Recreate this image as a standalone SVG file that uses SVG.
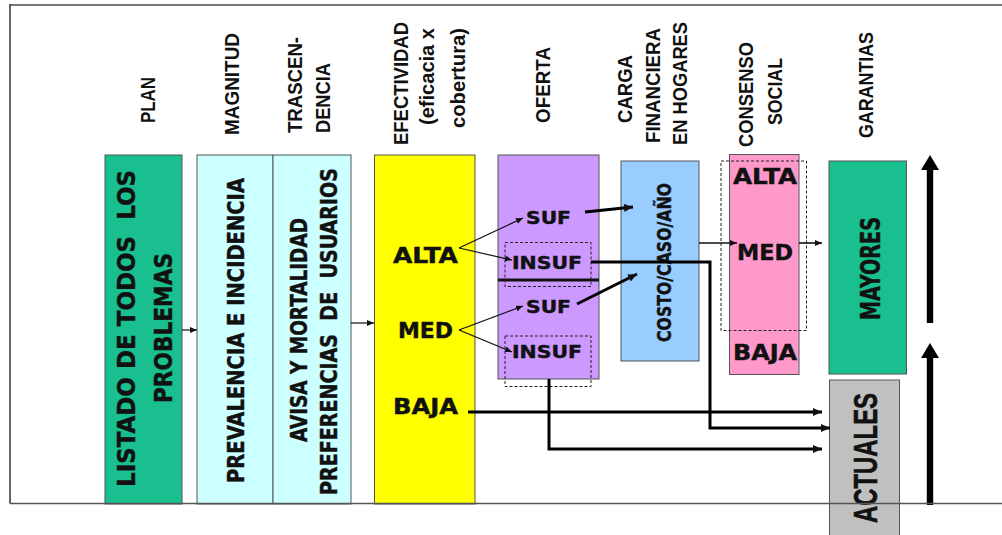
<svg xmlns="http://www.w3.org/2000/svg" width="1002" height="535" viewBox="0 0 1002 535">
<style>
.hdr{font-family:"Liberation Sans",Arial,sans-serif;font-weight:bold;font-size:20px;fill:#111}
.bx{font-family:"DejaVu Sans Condensed","DejaVu Sans",sans-serif;font-weight:bold;fill:#111;stroke:#111;stroke-width:0.4}
.ar{font-family:"Liberation Sans",Arial,sans-serif;font-weight:bold;fill:#111;stroke:#111;stroke-width:0.6}
.box{stroke:#555;stroke-width:1}
.dash{fill:none;stroke:#222;stroke-width:1;stroke-dasharray:3 2}
.thin{stroke:#111;stroke-width:1.2;fill:none}
.med{stroke:#111;stroke-width:1.6;fill:none}
.thick{stroke:#000;stroke-width:3;fill:none}
</style>
<defs>
<marker id="hs" markerUnits="userSpaceOnUse" markerWidth="8" markerHeight="8" refX="7" refY="3" orient="auto"><path d="M0,0 L7,3 L0,6 Z" fill="#111"/></marker>
<marker id="hm" markerUnits="userSpaceOnUse" markerWidth="10" markerHeight="10" refX="9" refY="4" orient="auto"><path d="M0,0 L9,4 L0,8 Z" fill="#111"/></marker>
</defs>
<rect x="0" y="0" width="1002" height="535" fill="#fff"/>

<g id="headers">
<text class="hdr" transform="translate(155,123) rotate(-90)" textLength="46" lengthAdjust="spacingAndGlyphs">PLAN</text>
<text class="hdr" transform="translate(239,135) rotate(-90)" textLength="102" lengthAdjust="spacingAndGlyphs">MAGNITUD</text>
<text class="hdr" transform="translate(302,133) rotate(-90)" textLength="96" lengthAdjust="spacingAndGlyphs">TRASCEN-</text>
<text class="hdr" transform="translate(330,133) rotate(-90)" textLength="70" lengthAdjust="spacingAndGlyphs">DENCIA</text>
<text class="hdr" transform="translate(408,145) rotate(-90)" textLength="123" lengthAdjust="spacingAndGlyphs">EFECTIVIDAD</text>
<text class="hdr" transform="translate(434,125) rotate(-90)" textLength="97" lengthAdjust="spacingAndGlyphs">(eficacia x</text>
<text class="hdr" transform="translate(465,128) rotate(-90)" textLength="100" lengthAdjust="spacingAndGlyphs">cobertura)</text>
<text class="hdr" transform="translate(550,123) rotate(-90)" textLength="76" lengthAdjust="spacingAndGlyphs">OFERTA</text>
<text class="hdr" transform="translate(632,123) rotate(-90)" textLength="68" lengthAdjust="spacingAndGlyphs">CARGA</text>
<text class="hdr" transform="translate(660,143) rotate(-90)" textLength="115" lengthAdjust="spacingAndGlyphs">FINANCIERA</text>
<text class="hdr" transform="translate(687,145) rotate(-90)" textLength="123" lengthAdjust="spacingAndGlyphs">EN HOGARES</text>
<text class="hdr" transform="translate(753,147) rotate(-90)" textLength="105" lengthAdjust="spacingAndGlyphs">CONSENSO</text>
<text class="hdr" transform="translate(782,125) rotate(-90)" textLength="67" lengthAdjust="spacingAndGlyphs">SOCIAL</text>
<text class="hdr" transform="translate(873,138) rotate(-90)" textLength="106" lengthAdjust="spacingAndGlyphs">GARANTIAS</text>
</g>

<g id="plan">
<rect class="box" x="105" y="155" width="77" height="349" fill="#1ABF8F"/>
<text class="bx" font-size="25" xml:space="preserve" transform="translate(135,487) rotate(-90)" textLength="317" lengthAdjust="spacingAndGlyphs">LISTADO DE TODOS  LOS</text>
<text class="bx" font-size="25" transform="translate(172,403) rotate(-90)" textLength="150" lengthAdjust="spacingAndGlyphs">PROBLEMAS</text>
</g>

<g id="magnitud">
<rect class="box" x="197" y="155" width="76" height="349" fill="#CCFFFF"/>
<text class="bx" font-size="22.5" transform="translate(244,483) rotate(-90)" textLength="305" lengthAdjust="spacingAndGlyphs">PREVALENCIA E INCIDENCIA</text>
</g>

<g id="trascendencia">
<rect class="box" x="273" y="155" width="78" height="349" fill="#CCFFFF"/>
<text class="bx" font-size="22.5" transform="translate(307,442) rotate(-90)" textLength="224" lengthAdjust="spacingAndGlyphs">AVISA Y MORTALIDAD</text>
<text class="bx" font-size="22.5" xml:space="preserve" transform="translate(337,495) rotate(-90)" textLength="327" lengthAdjust="spacingAndGlyphs">PREFERENCIAS  DE  USUARIOS</text>
</g>

<g id="efectividad">
<rect class="box" x="374.5" y="155" width="100.5" height="349" fill="#FFFF00"/>
<text class="bx" font-size="21" x="393" y="263" textLength="65" lengthAdjust="spacingAndGlyphs">ALTA</text>
<text class="bx" font-size="21" x="398" y="338" textLength="55" lengthAdjust="spacingAndGlyphs">MED</text>
<text class="bx" font-size="21" x="393" y="414" textLength="65" lengthAdjust="spacingAndGlyphs">BAJA</text>
</g>

<g id="oferta">
<rect class="box" x="498" y="155" width="101" height="224" fill="#CC99FF"/>
<line x1="498" y1="280" x2="599" y2="280" stroke="#111" stroke-width="3"/>
<rect class="dash" x="505" y="242.5" width="86" height="44"/>
<rect class="dash" x="505" y="336" width="86" height="50.5"/>
<text class="bx" font-size="18.5" x="526" y="224" textLength="45" lengthAdjust="spacingAndGlyphs">SUF</text>
<text class="bx" font-size="18.5" x="512" y="269" textLength="70" lengthAdjust="spacingAndGlyphs">INSUF</text>
<text class="bx" font-size="18.5" x="526" y="313" textLength="45" lengthAdjust="spacingAndGlyphs">SUF</text>
<text class="bx" font-size="18.5" x="512" y="358" textLength="70" lengthAdjust="spacingAndGlyphs">INSUF</text>
</g>

<g id="costo">
<rect class="box" x="621" y="161" width="78" height="200" fill="#99CCFF"/>
<text class="bx" font-size="20" fill="#101830" stroke="#101830" transform="translate(671,342) rotate(-90)" textLength="159" lengthAdjust="spacingAndGlyphs">COSTO/CASO/AÑO</text>
</g>

<g id="consenso">
<rect class="box" x="729.5" y="154.5" width="69.5" height="220" fill="#FF99CC"/>
<rect class="dash" x="721" y="161" width="85.5" height="169.5"/>
<text class="bx" font-size="21.5" x="733" y="184" textLength="64" lengthAdjust="spacingAndGlyphs">ALTA</text>
<text class="bx" font-size="21.5" x="737" y="260" textLength="56" lengthAdjust="spacingAndGlyphs">MED</text>
<text class="bx" font-size="21.5" x="733" y="360" textLength="64" lengthAdjust="spacingAndGlyphs">BAJA</text>
</g>

<g id="mayores">
<rect class="box" x="829" y="161" width="77.5" height="213" fill="#1ABF8F"/>
<text class="bx" font-size="27" fill="#0c2a20" stroke="#0c2a20" transform="translate(880,320) rotate(-90)" textLength="103" lengthAdjust="spacingAndGlyphs">MAYORES</text>
</g>

<g id="actuales">
<rect class="box" x="829.5" y="380" width="70" height="160" fill="#C0C0C0"/>
<text class="ar" font-size="33" transform="translate(877,523) rotate(-90)" textLength="130" lengthAdjust="spacingAndGlyphs">ACTUALES</text>
</g>

<g id="connectors">
<line class="thin" x1="182" y1="330" x2="197" y2="330" marker-end="url(#hs)"/>
<line class="thin" x1="351" y1="323" x2="374" y2="323" marker-end="url(#hs)"/>
<line class="thin" x1="459" y1="248" x2="523" y2="218" marker-end="url(#hs)"/>
<line class="thin" x1="459" y1="248" x2="512" y2="260" marker-end="url(#hs)"/>
<line class="thin" x1="459" y1="330" x2="523" y2="306" marker-end="url(#hs)"/>
<line class="thin" x1="459" y1="330" x2="512" y2="352" marker-end="url(#hs)"/>
<line class="thick" x1="585" y1="212" x2="633" y2="207" marker-end="url(#hm)"/>
<line class="thick" x1="577" y1="304" x2="637" y2="274" marker-end="url(#hm)"/>
<polyline class="thick" points="591,262 710,262 710,428 830,428" marker-end="url(#hm)"/>
<line class="thick" x1="468" y1="412" x2="822" y2="412" marker-end="url(#hm)"/>
<polyline class="thick" points="549,379 549,449 822,449" marker-end="url(#hm)"/>
<line class="med" x1="699" y1="243" x2="737" y2="243" marker-end="url(#hs)"/>
<line class="med" x1="799" y1="243" x2="822" y2="243" marker-end="url(#hs)"/>
<g id="scale-arrows">
<rect x="926.8" y="169" width="6.4" height="154" fill="#000"/>
<path d="M930,155 L939,170 L921,170 Z" fill="#000"/>
<rect x="926.8" y="357" width="6.4" height="148" fill="#000"/>
<path d="M930,343 L939,358 L921,358 Z" fill="#000"/>
</g>
</g>

<g id="frame">
<line x1="10" y1="5" x2="1002" y2="5" stroke="#777" stroke-width="2"/>
<line x1="10" y1="4" x2="10" y2="503.5" stroke="#333" stroke-width="1.5"/>
<line x1="10" y1="503.5" x2="1002" y2="503.5" stroke="#555" stroke-width="1.5"/>
</g>
</svg>
